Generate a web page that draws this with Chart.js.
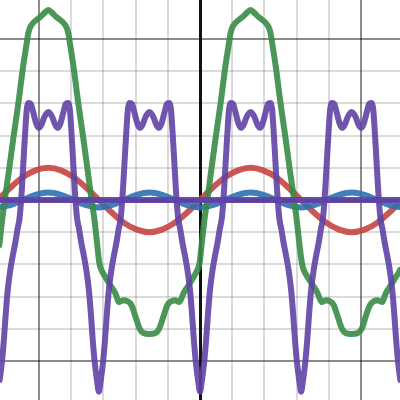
<!DOCTYPE html>
<html>
<head>
<meta charset="utf-8">
<script src="https://cdn.jsdelivr.net/npm/chart.js@4.4.1/dist/chart.umd.min.js"></script>
<style>
  html, body { margin: 0; padding: 0; background: #fff; }
  #wrap { width: 400px; height: 400px; }
</style>
</head>
<body>
<div id="wrap"><canvas id="graph" width="400" height="400"></canvas></div>
<script>
// visible window (graph units)
const xMin = -6.21, xMax = 6.21;
const yMin = -6.21, yMax = 6.21;

// red and blue share the same x samples
const waveX = [-6.28, -5.89, -5.50, -5.11, -4.71, -4.32, -3.93, -3.53, -3.14, -2.75, -2.36, -1.96, -1.57, -1.18, -0.79, -0.39,
  0, 0.39, 0.79, 1.18, 1.57, 1.96, 2.36, 2.75, 3.14, 3.53, 3.93, 4.32, 4.71, 5.11, 5.50, 5.89, 6.28];
const redY = [0, 0.38, 0.71, 0.92, 1, 0.92, 0.71, 0.38, 0, -0.38, -0.71, -0.92, -1, -0.92, -0.71, -0.38,
  0, 0.38, 0.71, 0.92, 1, 0.92, 0.71, 0.38, 0, -0.38, -0.71, -0.92, -1, -0.92, -0.71, -0.38, 0];
const blueY = [-0.23, -0.16, 0, 0.16, 0.23, 0.16, 0, -0.16, -0.23, -0.16, 0, 0.16, 0.23, 0.16, 0, -0.16,
  -0.23, -0.16, 0, 0.16, 0.23, 0.16, 0, -0.16, -0.23, -0.16, 0, 0.16, 0.23, 0.16, 0, -0.16, -0.23];

const greenX = [-6.23, -6.14, -6.05, -5.95, -5.80, -5.64, -5.49, -5.39, -5.33, -5.27, -5.18, -5.08, -4.96, -4.83, -4.71,
  -4.59, -4.46, -4.34, -4.24, -4.15, -4.09, -4.03, -3.93, -3.78, -3.62, -3.47, -3.38, -3.28, -3.19, -3.13, -3.06,
  -2.94, -2.79, -2.63, -2.51, -2.38, -2.26, -2.13, -2.01, -1.88, -1.76, -1.57,
  -1.38, -1.26, -1.13, -1.01, -0.88, -0.76, -0.64, -0.51, -0.35, -0.20, -0.08, -0.01, 0.05, 0.14, 0.24, 0.33,
  0.48, 0.64, 0.79, 0.89, 0.95, 1.01, 1.10, 1.20, 1.32, 1.45, 1.57,
  1.69, 1.82, 1.94, 2.04, 2.13, 2.19, 2.25, 2.35, 2.50, 2.66, 2.81, 2.91, 3.00, 3.09, 3.16, 3.22,
  3.34, 3.50, 3.65, 3.78, 3.90, 4.02, 4.15, 4.27, 4.40, 4.52, 4.71,
  4.90, 5.03, 5.15, 5.28, 5.40, 5.52, 5.65, 5.77, 5.93, 6.08, 6.21, 6.27];
const greenY = [-1.40, -0.59, 0.09, 0.78, 1.89, 3.01, 4.16, 4.81, 5.19, 5.37, 5.50, 5.59, 5.68, 5.81, 5.90,
  5.81, 5.68, 5.59, 5.50, 5.37, 5.19, 4.81, 4.16, 3.01, 1.89, 0.78, 0.09, -0.59, -1.40, -1.93, -2.17,
  -2.39, -2.64, -2.89, -3.17, -3.11, -3.14, -3.26, -3.60, -3.98, -4.13, -4.16,
  -4.13, -3.98, -3.60, -3.26, -3.14, -3.11, -3.17, -2.89, -2.64, -2.39, -2.17, -1.93, -1.40, -0.59, 0.09, 0.78,
  1.89, 3.01, 4.16, 4.81, 5.19, 5.37, 5.50, 5.59, 5.68, 5.81, 5.90,
  5.81, 5.68, 5.59, 5.50, 5.37, 5.19, 4.81, 4.16, 3.01, 1.89, 0.78, 0.09, -0.59, -1.40, -1.93, -2.17,
  -2.39, -2.64, -2.89, -3.17, -3.11, -3.14, -3.26, -3.60, -3.98, -4.13, -4.16,
  -4.13, -3.98, -3.60, -3.26, -3.14, -3.11, -3.17, -2.89, -2.64, -2.39, -2.17, -1.93];

const purpleX = [-6.28, -6.22, -6.15, -6.09, -6.03, -5.97, -5.89, -5.81, -5.73, -5.66, -5.61, -5.56, -5.52, -5.47, -5.42, -5.38, -5.32, -5.25, -5.18, -5.08, -5.01, -4.93, -4.83, -4.71,
  -4.59, -4.49, -4.41, -4.34, -4.24, -4.17, -4.10, -4.04, -4.00, -3.95, -3.90, -3.86, -3.81, -3.76, -3.69, -3.61, -3.53, -3.45, -3.39, -3.33, -3.27, -3.20, -3.14,
  -3.08, -3.01, -2.95, -2.89, -2.83, -2.75, -2.67, -2.59, -2.52, -2.47, -2.42, -2.38, -2.33, -2.28, -2.24, -2.18, -2.11, -2.04, -1.94, -1.87, -1.79, -1.69, -1.57,
  -1.45, -1.35, -1.27, -1.20, -1.10, -1.03, -0.96, -0.90, -0.86, -0.81, -0.76, -0.72, -0.67, -0.62, -0.55, -0.47, -0.39, -0.31, -0.25, -0.19, -0.13, -0.06, 0,
  0.06, 0.13, 0.19, 0.25, 0.31, 0.39, 0.47, 0.55, 0.62, 0.67, 0.72, 0.76, 0.81, 0.86, 0.90, 0.96, 1.03, 1.10, 1.20, 1.27, 1.35, 1.45, 1.57,
  1.69, 1.79, 1.87, 1.94, 2.04, 2.11, 2.18, 2.24, 2.28, 2.33, 2.38, 2.42, 2.47, 2.52, 2.59, 2.67, 2.75, 2.83, 2.89, 2.95, 3.01, 3.08, 3.14,
  3.20, 3.27, 3.33, 3.39, 3.45, 3.53, 3.61, 3.69, 3.76, 3.81, 3.86, 3.90, 3.95, 4.00, 4.04, 4.10, 4.17, 4.24, 4.34, 4.41, 4.49, 4.59, 4.71,
  4.83, 4.93, 5.01, 5.08, 5.18, 5.25, 5.32, 5.38, 5.42, 5.47, 5.52, 5.56, 5.61, 5.66, 5.73, 5.81, 5.89, 5.97, 6.03, 6.09, 6.15, 6.22, 6.28];
const purpleY = [-5.95, -5.59, -5.03, -4.35, -3.51, -2.80, -2.17, -1.71, -1.30, -0.87, -0.62, -0.09, 0.53, 1.40, 2.24, 2.80, 3.01, 2.98, 2.73, 2.36, 2.24, 2.33, 2.58, 2.73,
  2.58, 2.33, 2.24, 2.36, 2.73, 2.98, 3.01, 2.80, 2.24, 1.40, 0.53, -0.09, -0.62, -0.87, -1.30, -1.71, -2.17, -2.80, -3.51, -4.35, -5.03, -5.59, -5.95,
  -5.59, -5.03, -4.35, -3.51, -2.80, -2.17, -1.71, -1.30, -0.87, -0.62, -0.09, 0.53, 1.40, 2.24, 2.80, 3.01, 2.98, 2.73, 2.36, 2.24, 2.33, 2.58, 2.73,
  2.58, 2.33, 2.24, 2.36, 2.73, 2.98, 3.01, 2.80, 2.24, 1.40, 0.53, -0.09, -0.62, -0.87, -1.30, -1.71, -2.17, -2.80, -3.51, -4.35, -5.03, -5.59, -5.95,
  -5.59, -5.03, -4.35, -3.51, -2.80, -2.17, -1.71, -1.30, -0.87, -0.62, -0.09, 0.53, 1.40, 2.24, 2.80, 3.01, 2.98, 2.73, 2.36, 2.24, 2.33, 2.58, 2.73,
  2.58, 2.33, 2.24, 2.36, 2.73, 2.98, 3.01, 2.80, 2.24, 1.40, 0.53, -0.09, -0.62, -0.87, -1.30, -1.71, -2.17, -2.80, -3.51, -4.35, -5.03, -5.59, -5.95,
  -5.59, -5.03, -4.35, -3.51, -2.80, -2.17, -1.71, -1.30, -0.87, -0.62, -0.09, 0.53, 1.40, 2.24, 2.80, 3.01, 2.98, 2.73, 2.36, 2.24, 2.33, 2.58, 2.73,
  2.58, 2.33, 2.24, 2.36, 2.73, 2.98, 3.01, 2.80, 2.24, 1.40, 0.53, -0.09, -0.62, -0.87, -1.30, -1.71, -2.17, -2.80, -3.51, -4.35, -5.03, -5.59, -5.95];

// flat purple line along the x axis
const flatX = [-6.4, 6.4];
const flatY = [0, 0];

function pts(xs, ys) {
    return xs.map((x, i) => ({ x: x, y: ys[i] }));
}

function curve(xs, ys, color) {
    return {
        data: pts(xs, ys),
        showLine: true,
        borderColor: color,
        borderWidth: 6,
        borderCapStyle: 'round',
        borderJoinStyle: 'round',
        cubicInterpolationMode: 'monotone',
        pointRadius: 0,
        pointHoverRadius: 0,
        fill: false
    };
}

// grid: minor every unit, major every 5, axis black
function gridColor(ctx) {
    const v = ctx.tick.value;
    if (Math.abs(v - Math.round(v)) > 1e-6) return 'rgba(0,0,0,0)';
    if (v === 0) return '#111';
    if (v % 5 === 0) return 'rgba(0,0,0,0.45)';
    return 'rgba(0,0,0,0.14)';
}
function gridWidth(ctx) {
    return ctx.tick.value === 0 ? 3 : 2;
}

const axisOpts = (min, max) => ({
    type: 'linear',
    min: min,
    max: max,
    ticks: { display: false, stepSize: 1 },
    grid: { color: gridColor, lineWidth: gridWidth, drawTicks: false },
    border: { display: false }
});

const ctx = document.getElementById('graph').getContext('2d');
new Chart(ctx, {
    type: 'scatter',
    data: {
        datasets: [
            curve(flatX, flatY, 'rgba(96,66,166,0.95)'),
            curve(purpleX, purpleY, 'rgba(96,66,166,0.9)'),
            curve(greenX, greenY, 'rgba(56,140,70,0.9)'),
            curve(waveX, blueY, 'rgba(45,112,179,0.9)'),
            curve(waveX, redY, 'rgba(199,68,64,0.9)')
        ]
    },
    options: {
        responsive: false,
        animation: false,
        devicePixelRatio: 1,
        layout: { padding: 0 },
        scales: {
            x: axisOpts(xMin, xMax),
            y: axisOpts(yMin, yMax)
        },
        plugins: {
            legend: { display: false },
            tooltip: { enabled: false }
        }
    }
});
</script>
</body>
</html>
